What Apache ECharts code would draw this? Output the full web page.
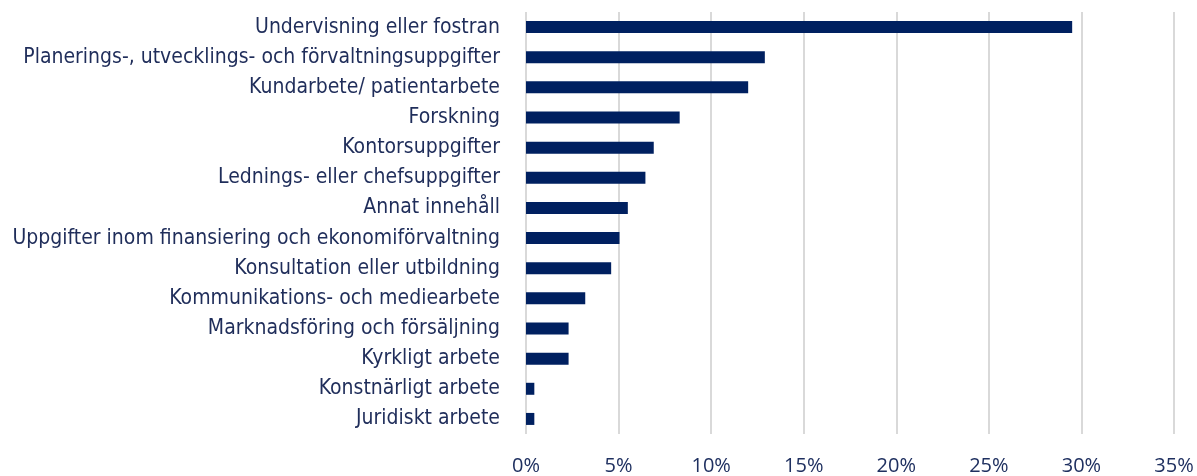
<!DOCTYPE html>
<html>
<head>
<meta charset="utf-8">
<script src="https://cdn.jsdelivr.net/npm/echarts@6/dist/echarts.min.js"></script>
<style>html,body{margin:0;padding:0;background:#fff}#c{width:1197px;height:476px}</style>
</head>
<body>
<div id="c"></div>
<script>
const categories = [
  "Undervisning eller fostran",
  "Planerings-, utvecklings- och förvaltningsuppgifter",
  "Kundarbete/ patientarbete",
  "Forskning",
  "Kontorsuppgifter",
  "Lednings- eller chefsuppgifter",
  "Annat innehåll",
  "Uppgifter inom finansiering och ekonomiförvaltning",
  "Konsultation eller utbildning",
  "Kommunikations- och mediearbete",
  "Marknadsföring och försäljning",
  "Kyrkligt arbete",
  "Konstnärligt arbete",
  "Juridiskt arbete"
];
const values = [29.5, 12.9, 12.0, 8.3, 6.9, 6.45, 5.5, 5.05, 4.6, 3.2, 2.3, 2.3, 0.45, 0.45];
const xTicks = [0, 5, 10, 15, 20, 25, 30, 35];

const chart = echarts.init(document.getElementById('c'), null, {renderer: 'canvas'});
chart.setOption({
  animation: false,
  grid: {left: 526, right: 23, top: 12, bottom: 41, containLabel: false},
  xAxis: {
    type: 'value', min: xTicks[0], max: xTicks[xTicks.length - 1], interval: 5,
    axisLine: {show: false}, axisTick: {show: false},
    splitLine: {show: true, lineStyle: {color: '#d9d9d9', width: 2}},
    axisLabel: {formatter: v => v + '%', color: '#1f3060', fontFamily: 'Open Sans', fontSize: 20, margin: 22}
  },
  yAxis: {
    type: 'category', data: categories, inverse: true,
    axisLine: {show: false}, axisTick: {show: false},
    axisLabel: {color: '#1f2d5a', fontFamily: '"Liberation Sans Narrow", "Arial Narrow", "DejaVu Sans Condensed", "Liberation Sans", sans-serif', fontSize: 21, margin: 26}
  },
  series: [{
    type: 'bar', data: values, barWidth: 12,
    itemStyle: {color: '#002060'}
  }]
});
</script>
</body>
</html>
